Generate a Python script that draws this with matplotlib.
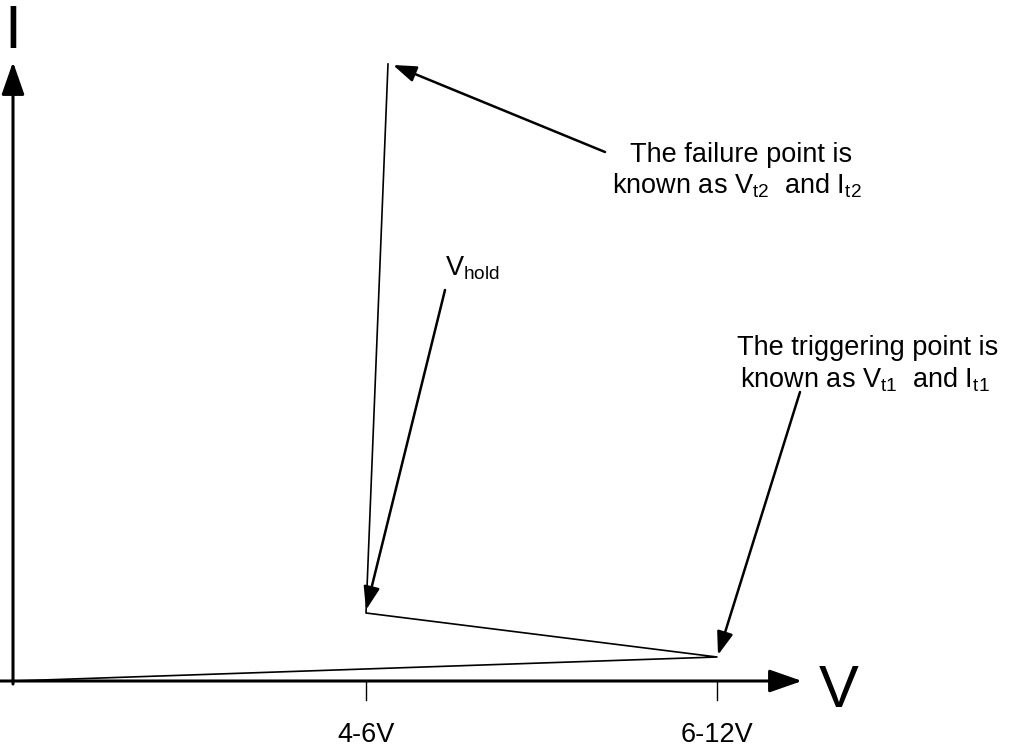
import matplotlib.pyplot as plt

plt.rcParams['font.family'] = ['Liberation Sans', 'DejaVu Sans']
plt.rcParams['mathtext.default'] = 'regular'

# snapback curve, V and I in arbitrary units (origin at axis crossing)
curve_v = [0, 704, 353, 375]
curve_i = [0, 24, 68, 617]
tick_pos = [353, 704]
tick_labels = ['4-6V', '6-12V']

fig = plt.figure(figsize=(10.09, 7.47), dpi=100)
ax = fig.add_axes([0, 0, 1, 1])
ax.set_xlim(-13, 996)
ax.set_ylim(-66, 681)
ax.axis('off')

# axes with arrow heads
ax.annotate('', xy=(0, 619), xytext=(0, -3),
            arrowprops=dict(arrowstyle='-|>,head_length=1.0,head_width=0.35',
                            lw=2.2, color='black', mutation_scale=20, shrinkA=0, shrinkB=0))
ax.annotate('', xy=(789, 0), xytext=(-13, 0),
            arrowprops=dict(arrowstyle='-|>,head_length=1.0,head_width=0.35',
                            lw=2.2, color='black', mutation_scale=20, shrinkA=0, shrinkB=0))
ax.text(0, 633, 'I', fontsize=44, ha='center', va='baseline')
ax.text(826, -26, 'V', fontsize=43, ha='center', va='baseline')

for x, lab in zip(tick_pos, tick_labels):
    ax.plot([x, x], [0, -19], color='black', lw=1.0)
    ax.text(x, -54, lab, fontsize=19.5, ha='center', va='center')

ax.plot(curve_v, curve_i, color='black', lw=1.2)

arrow = dict(arrowstyle='-|>,head_length=1.0,head_width=0.35', lw=1.8,
             color='black', mutation_scale=14, shrinkA=0, shrinkB=0)
ax.annotate('', xy=(380, 616), xytext=(592, 529), arrowprops=arrow)
ax.annotate('', xy=(353, 71), xytext=(432, 391), arrowprops=arrow)
ax.annotate('', xy=(705, 26), xytext=(787, 289), arrowprops=arrow)

ax.text(728, 519, 'The failure point is', fontsize=19.5, ha='center', va='baseline')
ax.text(724, 487, 'known as V$_{t2}$  and I$_{t2}$', fontsize=19.5, ha='center', va='baseline')
ax.text(855, 326, 'The triggering point is', fontsize=19.5, ha='center', va='baseline')
ax.text(852, 294, 'known as V$_{t1}$  and I$_{t1}$', fontsize=19.5, ha='center', va='baseline')
ax.text(432, 406, 'V$_{hold}$', fontsize=19.5, ha='left', va='baseline')

fig.savefig('out.png', dpi=100)
